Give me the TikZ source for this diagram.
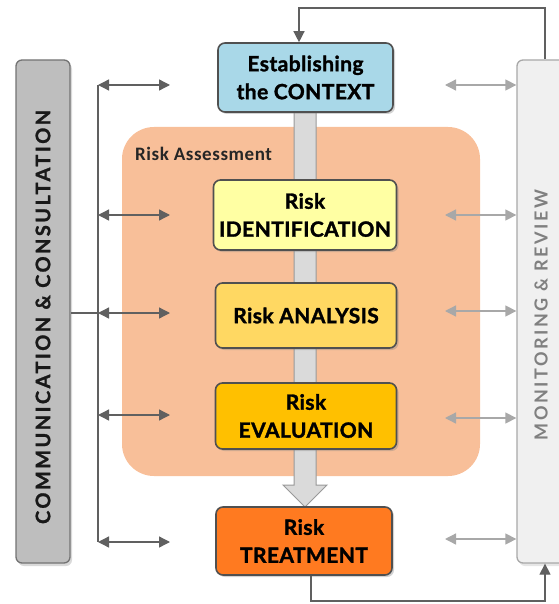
\documentclass[tikz,border=0pt]{standalone}
\usepackage{fontspec}
\setmainfont{Lato}
\newfontfamily\boxfont[LetterSpace=2,FakeBold=1.5]{Lato}
\newfontfamily\commfont[LetterSpace=12,FakeBold=1.2]{Lato}
\newfontfamily\monfont[LetterSpace=14]{Lato}
\newfontfamily\rafont[LetterSpace=3]{Carlito}
\usetikzlibrary{arrows.meta,shadows,calc}
\definecolor{ctxc}{HTML}{A9D8E8}
\definecolor{orgc}{HTML}{F8BF99}
\definecolor{idc}{HTML}{FFFFA3}
\definecolor{anc}{HTML}{FFD862}
\definecolor{evc}{HTML}{FFC000}
\definecolor{trc}{HTML}{FF7A20}
\definecolor{commc}{HTML}{BEBEBE}
\definecolor{monc}{HTML}{F0F0F0}
\definecolor{bordc}{HTML}{505050}
\definecolor{darkar}{HTML}{606060}
\definecolor{lightar}{HTML}{A8A8A8}
\definecolor{shaftc}{HTML}{DADADA}
\tikzset{
  stepbox/.style={draw=bordc, line width=1.6pt, rounded corners=7pt,
    align=center, font=\boxfont\bfseries\fontsize{21}{28}\selectfont,
    drop shadow={shadow xshift=2pt, shadow yshift=-2pt, opacity=0.35}},
  darrow/.style={draw=darkar, line width=1.3pt, {Triangle[length=11pt,width=11pt]}-{Triangle[length=11pt,width=11pt]}},
  larrow/.style={draw=lightar, line width=1.3pt, {Triangle[length=11pt,width=11pt]}-{Triangle[length=11pt,width=11pt]}},
  fbline/.style={draw=darkar, line width=1.3pt, -{Triangle[length=11pt,width=11pt]}},
}
\begin{document}
\begin{tikzpicture}[x=1pt,y=-1pt]
\useasboundingbox (0,0) rectangle (558,604);
% orange assessment area
\node[fill=orgc, rounded corners=32pt, minimum width=358pt, minimum height=349pt, inner sep=0pt] (ra) at (301,301.5) {};
\node[anchor=west, font=\rafont\bfseries\fontsize{19}{22}\selectfont, text=black!85, inner sep=0pt] (ralabel) at (135,154) {Risk Assessment};
% side bars
\node[draw=bordc!80, line width=1.3pt, fill=commc, rounded corners=6pt, minimum width=54pt, minimum height=503pt, inner sep=0pt,
  drop shadow={shadow xshift=2pt, shadow yshift=-3pt, opacity=0.3}] (comm) at (43,311.5) {};
\node[rotate=90, font=\commfont\bfseries\fontsize{20}{22}\selectfont, text=black!90] (commtext) at (43,317) {COMMUNICATION \& CONSULTATION};
\node[draw=lightar, line width=1.3pt, fill=monc, rounded corners=6pt, minimum width=58pt, minimum height=503pt, inner sep=0pt,
  drop shadow={shadow xshift=2pt, shadow yshift=-3pt, opacity=0.2}] (mon) at (546,311.5) {};
\node[rotate=90, font=\monfont\bfseries\fontsize{18}{20}\selectfont, text=black!50] (montext) at (541,315) {MONITORING \& REVIEW};
% central shaft with arrow
\draw[draw=black!40, line width=1pt, fill=shaftc] (294,110) -- (316,110) -- (316,485) -- (327,485) -- (305,507) -- (283,485) -- (294,485) -- cycle;
% step boxes
\node[stepbox, fill=ctxc, minimum width=175pt, minimum height=69pt] (ctx) at (305.5,77.5) {Establishing\\the CONTEXT};
\node[stepbox, fill=idc, minimum width=183pt, minimum height=70pt] (ident) at (305,215) {Risk\\IDENTIFICATION};
\node[stepbox, fill=anc, minimum width=181pt, minimum height=65pt] (anal) at (306,315.5) {Risk ANALYSIS};
\node[stepbox, fill=evc, minimum width=181pt, minimum height=66pt] (eval) at (306,416) {Risk\\EVALUATION};
\node[stepbox, fill=trc, minimum width=176pt, minimum height=68pt] (treat) at (304,541) {Risk\\TREATMENT};
% left connectors
\coordinate (lt) at (98,85);
\coordinate (lb) at (98,542);
\coordinate (lm) at (98,313);
\draw[draw=darkar, line width=1.3pt] (lt) -- (lb);
\draw[draw=darkar, line width=1.3pt] (comm.east |- lm) -- (lm);
\foreach \yy/\nm in {85/a,215/b,313/c,415/d,542/e}{
  \coordinate (ls\nm) at (98,\yy);
  \coordinate (le\nm) at (170,\yy);
  \draw[darrow] (ls\nm) -- (le\nm);
}
% right connectors
\foreach \yy/\nm in {85/a,215/b,311/c,418/d,539/e}{
  \coordinate (rs\nm) at (445,\yy);
  \draw[larrow] (rs\nm) -- (mon.west |- rs\nm);
}
% feedback loops
\coordinate (fb1) at (311,601);
\coordinate (fb2) at (545,601);
\draw[fbline] (treat.south -| fb1) -- (fb1) -- (fb2) -- (fb2 |- mon.south);
\coordinate (fb3) at (545,8);
\coordinate (fb4) at (299,8);
\draw[fbline] (fb3 |- mon.north) -- (fb3) -- (fb4) -- (fb4 |- ctx.north);
\end{tikzpicture}
\end{document}
